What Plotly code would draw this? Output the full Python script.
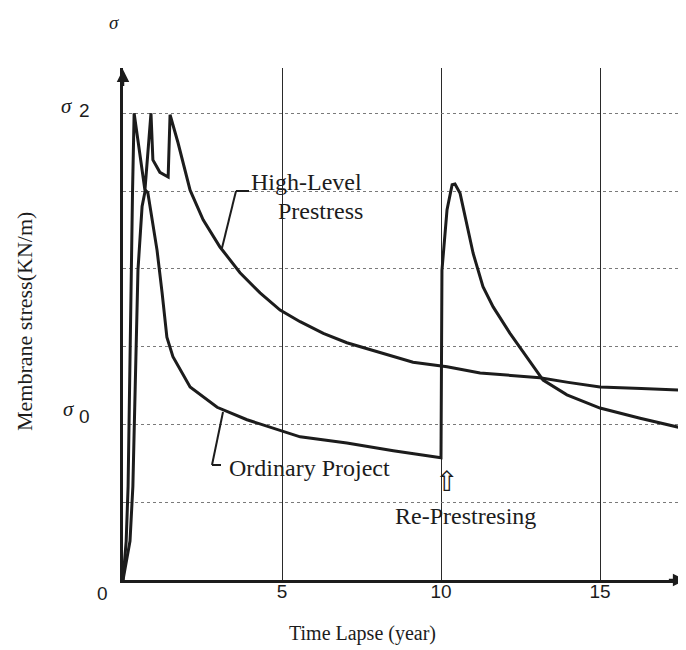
import plotly.graph_objects as go

# ---- data (years, stress in grid units; sigma0 = 2, sigma2 = 6) ----
high_x = [0, 0.10, 0.16, 0.22, 0.30, 0.35, 0.69, 0.88, 0.94, 1.16, 1.42, 1.48, 1.73, 2.11, 2.52,
          3.05, 3.68, 4.31, 4.94, 5.57, 6.30, 7.04, 8.08, 9.12, 10.19, 11.23, 12.2, 13.11, 14.0,
          15.0, 16.3, 17.6]
high_y = [0, 0.50, 1.20, 3.02, 5.00, 6.00, 5.01, 6.00, 5.40, 5.24, 5.18, 5.98, 5.62, 5.01, 4.63,
          4.28, 3.95, 3.69, 3.47, 3.32, 3.17, 3.05, 2.92, 2.80, 2.74, 2.66, 2.63, 2.60, 2.54,
          2.48, 2.46, 2.44]

ord_x = [0, 0.22, 0.31, 0.41, 0.47, 0.60, 0.70, 0.78, 1.07, 1.23, 1.38, 1.57, 2.11, 2.96, 3.90,
         5.57, 7.04, 8.50, 9.97, 10.00, 10.03, 10.19, 10.35, 10.44, 10.60, 10.82, 11.01, 11.32,
         11.64, 12.17, 12.70, 13.21, 13.96, 15.0, 16.26, 17.61]
ord_y = [0, 0.50, 1.20, 3.02, 3.98, 4.80, 5.01, 4.98, 4.24, 3.69, 3.12, 2.87, 2.48, 2.22, 2.06,
         1.84, 1.76, 1.66, 1.57, 1.57, 3.98, 4.76, 5.08, 5.09, 4.97, 4.54, 4.20, 3.77,
         3.51, 3.17, 2.87, 2.57, 2.38, 2.21, 2.08, 1.95]

x_ticks = [5, 10, 15]
x_ticklabels = ["5", "10", "15"]
y_grid = [1, 2, 3, 4, 5, 6]

# ---- placement helpers (reference-picture pixels; page has an 8px body offset) ----
OFF = 8
PL, PR, PT, PB = 123, 686, 68, 580          # plot area in the reference picture
XS, YS = 31.8, 77.8                          # pixels per year / per grid unit
XMAX = (PR - PL) / XS
YMAX = (PB - PT) / YS
def dx(px): return (px - PL) / XS
def dy(py): return (PB - py) / YS
def xp(px): return (px - PL) / (PR - PL)
def yp(py): return (PB - py) / (PB - PT)

W, H = 686 - OFF, 650 - OFF
SERIF = "Liberation Serif"
SANS = "Liberation Sans"
INK = "#1c1c1c"

fig = go.Figure()
fig.add_trace(go.Scatter(x=high_x, y=high_y, mode="lines",
                         line=dict(color=INK, width=3), showlegend=False, hoverinfo="skip"))
fig.add_trace(go.Scatter(x=ord_x, y=ord_y, mode="lines",
                         line=dict(color=INK, width=3), showlegend=False, hoverinfo="skip"))

ann = []
def txt(px, py, s, size=21, font=SERIF, angle=0):
    ann.append(dict(x=xp(px), y=yp(py), xref="paper", yref="paper", text=s, showarrow=False,
                    font=dict(family=font, size=size, color=INK), textangle=angle,
                    xanchor="center", yanchor="middle"))

txt(114, 22, "<i>σ</i>", 19, SERIF)
txt(67, 106, "<i>σ</i>", 21, SERIF)
txt(84, 110, "2", 19, SANS)
txt(69, 409, "<i>σ</i>", 21, SERIF)
txt(84, 416, "0", 19, SANS)
txt(102, 593, "0", 19, SANS)
txt(306, 182, "High-Level", 24)
txt(320, 211, "Prestress", 24)
txt(309, 468, "Ordinary Project", 24)
txt(465, 516, "Re-Prestresing", 24)
txt(446, 481, "⇧", 28, "DejaVu Sans")
txt(362, 633, "Time Lapse (year)", 20)
txt(24, 322, "Membrane stress(KN/m)", 22, SERIF, -90)

# axis arrows
ann.append(dict(x=XMAX - 0.02, y=0, xref="x", yref="y", ax=-18, ay=0, text="", showarrow=True,
                arrowhead=2, arrowsize=1, arrowwidth=2.5, arrowcolor=INK))
ann.append(dict(x=0, y=YMAX - 0.02, xref="x", yref="y", ax=0, ay=18, text="", showarrow=True,
                arrowhead=2, arrowsize=1, arrowwidth=2.5, arrowcolor=INK))

shapes = []
def seg(p1, p2, w=2):
    shapes.append(dict(type="line", xref="x", yref="y", x0=dx(p1[0]), y0=dy(p1[1]),
                       x1=dx(p2[0]), y1=dy(p2[1]), line=dict(color=INK, width=w)))
# leader lines
seg((249, 191), (236, 191))
seg((236, 191), (222, 248))
seg((223, 412), (212, 465))
seg((212, 465), (221, 465))

fig.update_layout(
    width=W, height=H,
    margin=dict(l=PL - OFF, r=0, t=PT - OFF, b=H - (PB - OFF), autoexpand=False),
    paper_bgcolor="white", plot_bgcolor="white",
    annotations=ann, shapes=shapes,
    xaxis=dict(range=[0, XMAX], tickvals=x_ticks, ticktext=x_ticklabels,
               showgrid=True, gridcolor="#2a2a2a", gridwidth=1.3,
               showline=True, linecolor=INK, linewidth=2.5, zeroline=False,
               ticks="", ticklabelstandoff=-8,
               tickfont=dict(family=SANS, size=19, color=INK)),
    yaxis=dict(range=[0, YMAX], tickvals=y_grid, showticklabels=False,
               showgrid=True, gridcolor="#7a7a7a", gridwidth=1, griddash="dot",
               showline=True, linecolor=INK, linewidth=2.5, zeroline=False, ticks=""),
)

fig.write_html("out.html")
